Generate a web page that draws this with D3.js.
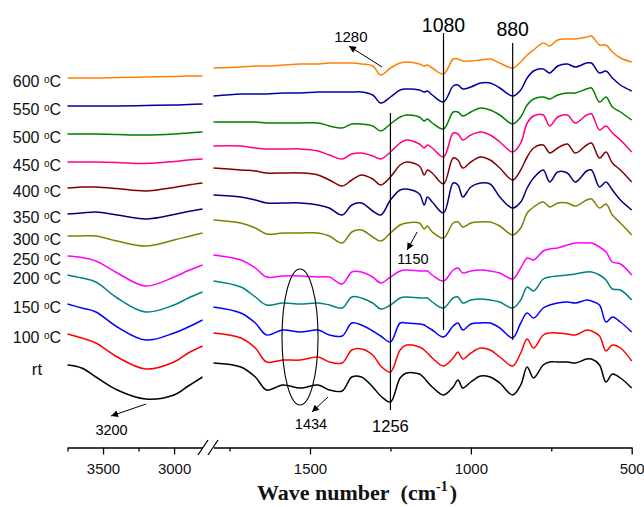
<!DOCTYPE html>
<html>
<head>
<meta charset="utf-8">
<script src="https://cdnjs.cloudflare.com/ajax/libs/d3/7.8.5/d3.min.js"></script>
<style>
  body { margin: 0; background: #fff; }
  text { font-family: "Liberation Sans", Arial, sans-serif; }
  text.title { font-family: "Liberation Serif", "Times New Roman", serif; }
</style>
</head>
<body>
<svg id="chart"></svg>
<script>
// FTIR spectra, stacked, broken wavenumber axis
var width = 644, height = 507;

// wavenumber grids (cm-1) for the two panels of the broken axis
var wnHigh = [3750, 3650, 3550, 3400, 3200, 3000, 2900, 2800];
var wnLow = [1800, 1715, 1670, 1635, 1585, 1530, 1475, 1440, 1400, 1370,
             1340, 1305, 1280, 1250, 1220, 1200, 1160, 1145, 1135, 1120,
             1085, 1055, 1040, 1025, 1000, 970, 940, 910, 870, 845,
             825, 805, 775, 755, 730, 700, 675, 640, 625, 600,
             580, 560, 535, 500];

var sampleLabels = ["600", "550", "500", "450", "400", "350", "300", "250", "200", "150", "100", "rt"];
var sampleColors = ["#ff8000", "#0000a0", "#008000", "#ff0080", "#800000", "#000080",
                    "#808000", "#ff00ff", "#008080", "#0000ff", "#ff0000", "#000000"];

// stacked transmittance (a.u., offset per sample)
var hi600 = [372, 372, 372, 372.5, 373, 373.5, 374, 374];
var hi550 = [344, 344, 344, 344, 344.5, 345, 345.5, 346];
var hi500 = [316, 316, 316, 315.5, 315, 316, 317, 318];
var hi450 = [288, 288, 288, 287.5, 286.5, 288.5, 290, 291];
var hi400 = [262, 263, 263, 261.5, 259, 262.5, 265, 267];
var hi350 = [236, 237, 238, 235, 231, 235.5, 238.5, 241];
var hi300 = [214, 214, 214, 209, 204, 210, 213.5, 217];
var hi250 = [194, 192.5, 189, 177, 164, 173, 179.5, 185];
var hi200 = [175, 172, 168, 152, 138, 145, 152, 158];
var hi150 = [146, 142, 138, 123, 110, 117, 123, 130];
var hi100 = [116, 112, 107, 93, 81, 88, 97, 104];
var hiRt  = [85, 82, 73, 60, 51, 55, 64, 73];

var lo600 = [382, 383, 384, 384, 385, 386, 386, 387, 387, 387, 386, 384, 375, 382, 387, 388, 386, 384, 385, 382, 376, 391, 391, 389, 389, 390, 391, 387, 382, 388, 395, 400, 407, 404, 410, 411, 411, 413, 414, 405, 405, 398, 392, 388];
var lo550 = [354, 356, 356, 356, 357, 357, 358, 358, 358, 358, 358, 355, 347, 353, 360, 361, 360, 358, 359, 355, 348, 364, 365, 361, 363, 367, 367, 362, 354, 360, 372, 379, 381, 377, 384, 386, 383, 387, 387, 377, 379, 372, 365, 359];
var lo500 = [328, 328, 328, 327, 327, 327, 327, 324, 322, 326, 326, 324, 319, 326, 333, 335, 333, 329, 331, 327, 321, 338, 338, 334, 338, 342, 340, 335, 326, 333, 345, 351, 353, 351, 355, 357, 357, 361, 362, 348, 353, 343, 338, 330];
var lo450 = [304, 304, 302, 301, 301, 301, 299, 295, 291, 296, 297, 294, 291, 298, 307, 310, 306, 302, 305, 302, 293, 317, 316, 310, 315, 318, 315, 308, 298, 307, 327, 334, 335, 324, 333, 335, 327, 335, 336, 320, 324, 317, 310, 298];
var lo400 = [282, 280, 279, 277, 277, 277, 275, 270, 264, 270, 275, 271, 265, 273, 285, 288, 284, 275, 280, 277, 266, 292, 290, 282, 288, 293, 290, 282, 270, 280, 293, 302, 305, 297, 302, 306, 297, 305, 307, 292, 298, 287, 280, 268];
var lo350 = [255, 253, 250, 247, 247, 247, 245, 242, 235, 245, 247, 239, 235, 250, 260, 261, 256, 245, 253, 248, 237, 267, 265, 253, 263, 267, 266, 253, 242, 248, 262, 272, 280, 268, 278, 277, 268, 279, 280, 263, 268, 260, 250, 240];
var lo300 = [230, 227, 222, 216, 217, 217, 217, 214, 207, 218, 220, 213, 209, 217, 225, 227, 227, 221, 224, 218, 212, 227, 228, 223, 227, 228, 228, 224, 215, 222, 237, 243, 248, 243, 247, 247, 244, 250, 251, 242, 246, 235, 227, 215];
var lo250 = [195, 190, 182, 173, 174, 174, 173, 173, 166, 178, 178, 173, 167, 173, 179, 180, 179, 179, 179, 175, 169, 180, 182, 177, 179, 180, 179, 177, 171, 182, 192, 190, 199, 201, 202, 205, 207, 207, 207, 203, 198, 188, 186, 175];
var lo200 = [169, 163, 153, 145, 147, 146, 147, 145, 142, 153, 152, 147, 141, 145, 152, 153, 152, 152, 152, 148, 142, 152, 153, 147, 150, 151, 150, 148, 142, 150, 163, 159, 171, 173, 174, 175, 176, 178, 178, 175, 170, 161, 160, 150];
var lo150 = [143, 137, 127, 115, 120, 118, 120, 115, 114, 127, 125, 119, 114, 108, 127, 127, 126, 125, 123, 120, 113, 124, 127, 120, 126, 127, 127, 122, 112, 127, 137, 132, 142, 145, 147, 148, 147, 150, 149, 145, 128, 133, 128, 118];
var lo100 = [117, 112, 102, 88, 90, 90, 93, 88, 87, 100, 101, 95, 84, 78, 100, 105, 103, 100, 97, 92, 84, 92, 98, 91, 97, 102, 100, 93, 84, 97, 111, 102, 115, 117, 117, 116, 115, 120, 119, 114, 99, 105, 102, 89];
var loRt  = [87, 83, 73, 60, 65, 62, 65, 60, 59, 73, 73, 63, 54, 48, 72, 77, 76, 72, 68, 63, 55, 63, 70, 62, 68, 74, 73, 67, 55, 65, 83, 72, 85, 88, 88, 88, 87, 91, 91, 85, 68, 76, 72, 62];

var highSets = [hi600, hi550, hi500, hi450, hi400, hi350, hi300, hi250, hi200, hi150, hi100, hiRt];
var lowSets = [lo600, lo550, lo500, lo450, lo400, lo350, lo300, lo250, lo200, lo150, lo100, loRt];

var majorHigh = [3500, 3000], minorHigh = [3750, 3250];
var majorLow = [1500, 1000, 500], minorLow = [1750, 1250, 750];

// reference lines: [wavenumber, top, bottom, label]
var markerLines = [[1085, 417, 120, "1080"], [870, 407, 110, "880"], [1250, 337, 40, "1256"]];
// arrows: [panel, wn from, v from, wn to, v to]
var arrows = [["low", 1276, 383, 1379, 404], ["low", 1167, 218, 1198, 200],
              ["low", 1444, 53, 1494, 38], ["high", 3197, 46, 3444, 34]];
// small peak labels: [panel, wn, v, text, size]
var peakLabels = [["low", 1373, 408, "1280", 15], ["low", 1180, 186, "1150", 14.5],
                  ["low", 1497, 21, "1434", 14.5], ["high", 3440, 15, "3200", 14.5]];

var xHigh = d3.scaleLinear().domain([3750, 2800]).range([67.5, 202.5]);
var xLow = d3.scaleLinear().domain([1800, 500]).range([213.5, 631.7]);
var y = d3.scaleLinear().domain([0, 450]).range([450, 0]);
var axisY = 447.5;

var svg = d3.select("#chart").attr("width", width).attr("height", height);

svg.append("defs").append("marker")
  .attr("id", "arrow")
  .attr("viewBox", "0 0 10 10")
  .attr("refX", 10).attr("refY", 5)
  .attr("markerWidth", 9).attr("markerHeight", 7)
  .attr("markerUnits", "userSpaceOnUse")
  .attr("orient", "auto")
  .append("path").attr("d", "M0,0L10,5L0,10z").attr("fill", "#000");

var lineHigh = d3.line()
  .x(function (d) { return xHigh(d[0]); })
  .y(function (d) { return y(d[1]); })
  .curve(d3.curveCatmullRom.alpha(0.5));
var lineLow = d3.line()
  .x(function (d) { return xLow(d[0]); })
  .y(function (d) { return y(d[1]); })
  .curve(d3.curveCatmullRom.alpha(0.5));

var series = sampleLabels.map(function (lab, i) {
  return {
    label: lab,
    color: sampleColors[i],
    high: wnHigh.map(function (w, j) { return [w, highSets[i][j]]; }),
    low: wnLow.map(function (w, j) { return [w, lowSets[i][j]]; })
  };
});

var curves = svg.append("g").attr("class", "curves");
series.forEach(function (s) {
  curves.append("path").attr("d", lineHigh(s.high))
    .attr("fill", "none").attr("stroke", s.color).attr("stroke-width", 1.5);
  curves.append("path").attr("d", lineLow(s.low))
    .attr("fill", "none").attr("stroke", s.color).attr("stroke-width", 1.5);
});

// sample labels
var labels = svg.append("g").attr("font-size", 16).attr("fill", "#111");
series.forEach(function (s) {
  var yy = y(s.high[0][1]) + 9;
  if (s.label === "rt") {
    labels.append("text").attr("x", 37).attr("y", yy + 1).attr("text-anchor", "middle")
      .attr("font-size", 17).text("rt");
  } else {
    var t = labels.append("text").attr("x", 61).attr("y", yy).attr("text-anchor", "end");
    t.append("tspan").text(s.label + " ");
    t.append("tspan").attr("font-size", 10).attr("dy", -4.5).text("o");
    t.append("tspan").attr("dy", 4.5).text("C");
  }
});

// reference lines
var refs = svg.append("g");
markerLines.forEach(function (m) {
  var xx = xLow(m[0]);
  refs.append("line").attr("x1", xx).attr("x2", xx)
    .attr("y1", y(m[1])).attr("y2", y(m[2]))
    .attr("stroke", "#000").attr("stroke-width", 1.2);
});
refs.append("text").attr("x", xLow(markerLines[0][0])).attr("y", 31.7)
  .attr("text-anchor", "middle").attr("font-size", 19.5).text(markerLines[0][3]);
refs.append("text").attr("x", xLow(markerLines[1][0])).attr("y", 35.7)
  .attr("text-anchor", "middle").attr("font-size", 19.5).text(markerLines[1][3]);
refs.append("text").attr("x", xLow(markerLines[2][0])).attr("y", 432)
  .attr("text-anchor", "middle").attr("font-size", 16.5).text(markerLines[2][3]);

// arrows and small labels
function xOf(panel, w) { return panel === "high" ? xHigh(w) : xLow(w); }
arrows.forEach(function (a) {
  refs.append("line")
    .attr("x1", xOf(a[0], a[1])).attr("y1", y(a[2]))
    .attr("x2", xOf(a[0], a[3])).attr("y2", y(a[4]))
    .attr("stroke", "#000").attr("stroke-width", 1)
    .attr("marker-end", "url(#arrow)");
});
peakLabels.forEach(function (p) {
  refs.append("text").attr("x", xOf(p[0], p[1])).attr("y", y(p[2]))
    .attr("text-anchor", "middle").attr("font-size", p[4]).text(p[3]);
});

// ellipse around the 1434 band
var ell = { wn: 1531, v: 113, dwn: 56, dv: 68 };
refs.append("ellipse")
  .attr("cx", xLow(ell.wn)).attr("cy", y(ell.v))
  .attr("rx", Math.abs(xLow(ell.wn + ell.dwn) - xLow(ell.wn)))
  .attr("ry", Math.abs(y(ell.v + ell.dv) - y(ell.v)))
  .attr("fill", "none").attr("stroke", "#000").attr("stroke-width", 1.1);

// axes
function styleAxis(g) {
  g.select(".domain").attr("stroke-width", 1.4);
  g.selectAll(".tick line").attr("stroke-width", 1.3);
  g.selectAll(".tick text").attr("font-size", 15).attr("fill", "#111");
}
[[xHigh, majorHigh, minorHigh], [xLow, majorLow, minorLow]].forEach(function (a) {
  var g = svg.append("g").attr("transform", "translate(0," + axisY + ")")
    .call(d3.axisBottom(a[0]).tickValues(a[1]).tickSize(7).tickSizeOuter(0)
      .tickPadding(9).tickFormat(d3.format("d")));
  styleAxis(g);
  var gm = svg.append("g").attr("transform", "translate(0," + axisY + ")")
    .call(d3.axisBottom(a[0]).tickValues(a[2]).tickSize(4).tickFormat(""));
  gm.select(".domain").remove();
  gm.selectAll(".tick line").attr("stroke-width", 1.3);
});

// axis break marks
var g0 = xHigh.range()[1], g1 = xLow.range()[0];
[g0 + 0.5, g1 - 0.5].forEach(function (cx) {
  svg.append("line").attr("x1", cx - 5).attr("y1", axisY + 7.5)
    .attr("x2", cx + 5).attr("y2", axisY - 7.5)
    .attr("stroke", "#000").attr("stroke-width", 1.3);
});

// axis title
var title = svg.append("text").attr("class", "title")
  .attr("x", 357).attr("y", 500).attr("text-anchor", "middle")
  .attr("font-weight", "bold").attr("font-size", 22).attr("fill", "#111");
title.append("tspan").text("Wave number");
title.append("tspan").attr("dx", 11).text("(cm");
title.append("tspan").attr("font-size", 14).attr("dy", -9).text("-1");
title.append("tspan").attr("dy", 9).attr("dx", 2).text(")");
</script>
</body>
</html>
